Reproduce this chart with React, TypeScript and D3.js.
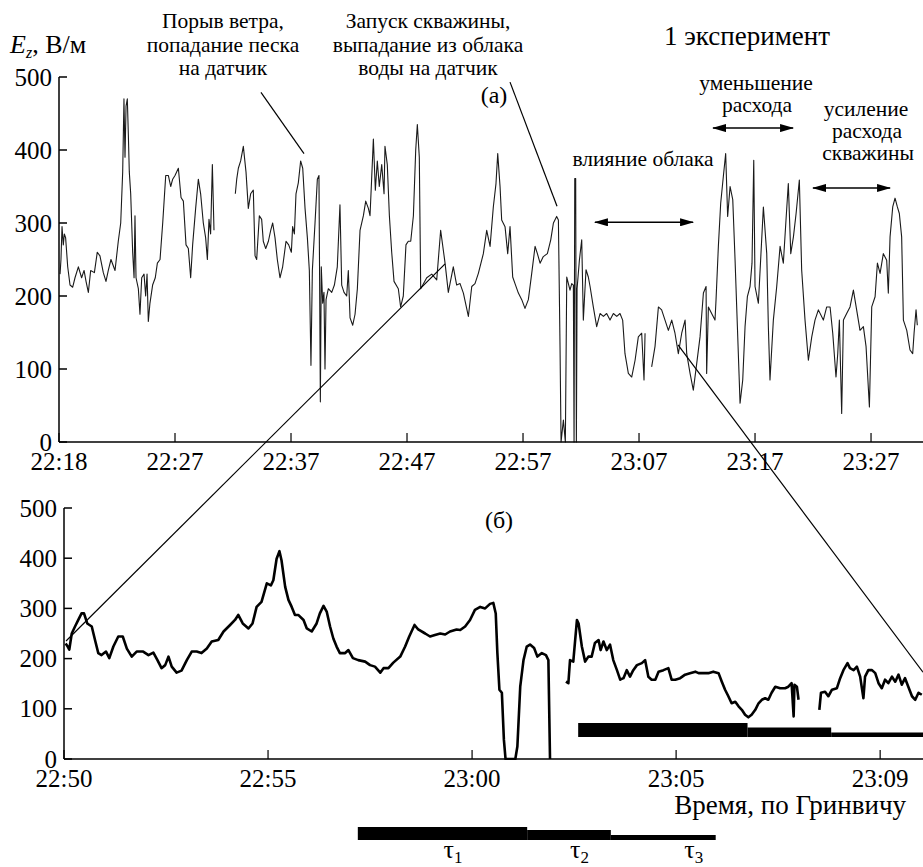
import React from "react";
import * as d3 from "d3";

// (а) full record, minutes from the first tick
const topMinutes = [
  0.09, 0.17, 0.26, 0.37, 0.46, 0.57, 0.75, 0.95, 1.18, 1.38, 1.67, 1.95, 2.16, 2.33, 2.53, 2.73,
  3.05, 3.3, 3.53, 3.82, 4.05, 4.25, 4.48, 4.83, 5.11, 5.32, 5.49, 5.6, 5.69, 5.78, 5.89, 5.98,
  6.06, 6.18, 6.35, 6.47, 6.55, 6.64, 6.84, 6.98, 7.13, 7.33, 7.47, 7.59, 7.7, 7.84, 8.07, 8.3,
  8.48, 8.71, 8.94, 9.2, 9.43, 9.63, 9.8, 10.0, 10.29, 10.52, 10.72, 10.95, 11.15, 11.35, 11.52,
  11.78, 12.01, 12.21, 12.44, 12.64, 12.79, 12.93, 13.07, 13.22, 13.36, 14.0, 15.2, 15.32, 15.46,
  15.66, 15.89, 16.12, 16.32, 16.52, 16.75, 16.9, 17.04, 17.27, 17.47, 17.61, 17.82, 18.05, 18.25,
  18.42, 18.62, 18.82, 19.05, 19.28, 19.57, 19.8, 20.03, 20.14, 20.29, 20.43, 20.63, 20.83, 21.01,
  21.21, 21.41, 21.58, 21.72, 21.84, 22.07, 22.27, 22.41, 22.53, 22.61, 22.73, 22.84, 22.93, 23.02,
  23.22, 23.51, 23.74, 23.99, 24.22, 24.37, 24.57, 24.8, 24.94, 25.09, 25.32, 25.52, 25.72, 25.95,
  26.24, 26.44, 26.67, 26.81, 26.95, 27.1, 27.27, 27.44, 27.61, 27.82, 28.02, 28.1, 28.3, 28.48,
  28.68, 28.88, 29.25, 29.45, 29.68, 29.91, 30.11, 30.32, 30.55, 30.75, 30.89, 31.06, 31.18, 31.7,
  32.13, 32.56, 32.9, 33.28, 33.56, 33.99, 34.28, 34.57, 34.86, 35.29, 35.58, 35.86, 36.15, 36.58,
  36.87, 37.16, 37.44, 37.67, 37.82, 38.02, 38.16, 38.45, 38.68, 38.88, 39.11, 39.31, 39.6, 39.89,
  40.17, 40.46, 40.75, 41.04, 41.24, 41.47, 41.75, 42.1, 42.39, 42.62, 42.9, 43.05, 43.19, 43.28,
  43.48, 43.65, 43.77, 44.05, 44.2, 44.34, 44.4, 44.46, 44.54, 44.6, 44.66, 44.86, 45.06, 45.2,
  45.43, 45.63, 45.78, 46.06, 46.35, 46.64, 46.93, 47.21, 47.5, 47.79, 48.08, 48.36, 48.59, 48.79,
  49.08, 49.37, 49.66, 49.94, 50.23, 50.43, 50.52, 50.8, 51.09, 51.38, 51.67, 51.95, 52.24, 52.53,
  52.82, 53.1, 53.39, 53.68, 53.97, 54.11, 54.4, 54.68, 54.97, 55.26, 55.55, 55.78, 55.83, 55.98,
  56.26, 56.55, 56.64, 56.84, 57.04, 57.27, 57.47, 57.64, 57.85, 58.08, 58.28, 58.48, 58.71, 58.94,
  59.14, 59.34, 59.57, 59.74, 59.89, 60.0, 60.29, 60.72, 61.01, 61.15, 61.29, 61.58, 61.87, 62.16,
  62.44, 62.67, 62.87, 63.08, 63.31, 63.54, 63.82, 64.02, 64.31, 64.6, 64.89, 65.17, 65.46, 65.89,
  66.18, 66.47, 66.7, 66.98, 67.13, 67.27, 67.47, 67.62, 67.9, 68.19, 68.48, 68.76, 69.05, 69.34,
  69.57, 69.86, 70.06, 70.35, 70.55, 70.78, 71.06, 71.35, 71.49, 71.64, 71.87, 72.07, 72.27, 72.44,
  72.64, 72.79, 73.08, 73.36, 73.59, 73.71, 73.88, 73.99
];
const topEz = [
  230, 250, 295, 270, 285, 280, 240, 215, 212, 225, 240, 225, 235, 220, 205, 235,
  232, 260, 255, 232, 220, 235, 250, 235, 275, 300, 370, 470, 390, 460, 470, 420,
  370, 340, 260, 225, 310, 225, 210, 175, 225, 230, 200, 230, 165, 190, 215, 225,
  245, 250, 300, 365, 365, 350, 360, 365, 375, 335, 330, 270, 265, 225, 270,
  320, 360, 340, 300, 280, 250, 305, 285, 380, 290, null, 340, 360, 375,
  385, 405, 370, 320, 340, 345, 255, 250, 310, 305, 275, 265, 275, 290,
  300, 280, 250, 225, 240, 275, 270, 260, 295, 285, 340, 355, 385, 375,
  320, 280, 235, 105, 235, 300, 360, 365, 55, 240, 190, 205, 100, 195,
  210, 205, 215, 240, 325, 215, 205, 200, 235, 170, 160, 175, 210, 290,
  310, 330, 320, 310, 360, 415, 345, 385, 350, 380, 340, 405, 380, 310,
  260, 220, 210, 185, 200, 270, 275, 275, 310, 400, 435, 390, 210, 225,
  230, 222, 290, 245, 205, 240, 215, 217, 204, 172, 213, 217, 231, 258,
  290, 268, 322, 354, 395, 350, 304, 295, 258, 295, 226, 217, 204, 195,
  183, 195, 231, 268, 258, 245, 254, 258, 277, 300, 309, 304, 131, 0,
  30, 0, 226, 208, 217, 215, 0, 361, 361, 0, 210, 249, 277, 167,
  236, 226, 213, 185, 158, 176, 172, 176, 167, 176, 172, 176, 167, 121,
  94, 89, 112, 144, 149, 85, 149, null, 103, 131, 185, 181, 167, 153,
  167, 149, 121, 149, 167, 121, 94, 71, 107, 144, 204, 213, 94, 185,
  176, 167, 195, 268, 327, 364, 395, 309, 350, 332, 249, 158, 53, 85,
  158, 199, 213, 245, 386, 213, 190, 322, 258, 158, 85, 167, 213, 268,
  245, 304, 354, 258, 281, 313, 359, 236, 167, 112, 144, 167, 181, 167,
  185, 185, 149, 89, 121, 167, 39, 167, 176, 185, 208, 181, 153, 158,
  131, 48, 185, 199, 245, 231, 258, 249, 204, 281, 322, 334, 322, 313,
  281, 167, 153, 126, 121, 149, 181, 160
];

// (б) fragment from 22:50, minutes
const bottomMinutes = [
  0.04, 0.09, 0.13, 0.19, 0.27, 0.35, 0.43, 0.49, 0.57, 0.68, 0.76, 0.84, 0.92, 1.03, 1.11, 1.21,
  1.33, 1.44, 1.54, 1.66, 1.78, 1.94, 2.07, 2.19, 2.29, 2.39, 2.48, 2.56, 2.64, 2.76, 2.88, 3.01,
  3.13, 3.25, 3.37, 3.5, 3.62, 3.78, 3.91, 4.07, 4.19, 4.27, 4.38, 4.52, 4.62, 4.72, 4.84, 4.97,
  5.07, 5.13, 5.21, 5.28, 5.33, 5.42, 5.5, 5.58, 5.66, 5.74, 5.87, 5.95, 6.07, 6.19, 6.27, 6.36,
  6.44, 6.52, 6.6, 6.68, 6.76, 6.89, 6.97, 7.08, 7.21, 7.38, 7.5, 7.62, 7.75, 7.83, 7.95, 8.07,
  8.24, 8.36, 8.46, 8.59, 8.68, 8.85, 8.97, 9.09, 9.22, 9.34, 9.46, 9.62, 9.71, 9.83, 9.95, 10.07,
  10.2, 10.32, 10.44, 10.52, 10.58, 10.62, 10.67, 10.73, 10.78, 10.82, 11.06, 11.11, 11.18, 11.26,
  11.34, 11.42, 11.52, 11.6, 11.71, 11.81, 11.87, 11.91, 12.1, 12.3, 12.36, 12.4, 12.48, 12.57,
  12.61, 12.69, 12.77, 12.85, 12.93, 13.01, 13.1, 13.15, 13.22, 13.3, 13.38, 13.46, 13.55, 13.63,
  13.71, 13.79, 13.87, 13.95, 14.04, 14.16, 14.24, 14.32, 14.4, 14.49, 14.57, 14.69, 14.81, 14.89,
  14.98, 15.1, 15.22, 15.34, 15.47, 15.55, 15.67, 15.79, 15.91, 16.04, 16.12, 16.2, 16.28, 16.36,
  16.45, 16.53, 16.61, 16.69, 16.77, 16.85, 16.94, 17.02, 17.1, 17.18, 17.26, 17.34, 17.43, 17.55,
  17.67, 17.75, 17.83, 17.88, 17.9, 17.96, 18.0, 18.25, 18.51, 18.55, 18.65, 18.73, 18.82, 18.94,
  19.02, 19.1, 19.2, 19.26, 19.35, 19.43, 19.51, 19.59, 19.63, 19.71, 19.8, 19.88, 19.96, 20.04,
  20.12, 20.2, 20.29, 20.37, 20.45, 20.53, 20.61, 20.69, 20.78, 20.86, 20.94, 21.02
];
const bottomEz = [
  230, 224, 218, 250, 264, 277, 290, 290, 270, 264, 237, 211, 207, 214, 201, 224,
  244, 244, 220, 204, 214, 214, 207, 212, 197, 181, 187, 204, 184, 172, 176, 197,
  214, 214, 211, 220, 234, 237, 254, 267, 277, 287, 270, 260, 270, 303, 313, 350,
  346, 356, 399, 414, 396, 343, 317, 303, 287, 287, 277, 260, 254, 270, 290, 305,
  293, 264, 240, 224, 211, 211, 217, 201, 197, 194, 187, 184, 172, 181, 181, 192,
  204, 224, 244, 267, 258, 250, 244, 247, 250, 248, 254, 258, 257, 264, 277, 297,
  303, 300, 309, 311, 290, 211, 138, 132, 38, 0, 0, 25, 144, 197,
  224, 228, 221, 204, 211, 207, 197, 0, null, 154, 151, 197, 194, 277,
  270, 224, 194, 204, 204, 231, 237, 217, 234, 217, 228, 197, 177, 158,
  161, 177, 164, 177, 187, 191, 197, 164, 158, 158, 174, 177, 181, 158,
  158, 161, 168, 171, 174, 171, 171, 171, 174, 171, 154, 138, 125, 111,
  114, 105, 98, 88, 83, 88, 98, 111, 118, 121, 118, 132, 144, 141,
  141, 144, 151, 85, 148, 144, 118, null, 98, 132, 134, 125, 138, 141,
  161, 177, 191, 181, 177, 184, 164, 121, 164, 177, 177, 171, 151, 141,
  158, 151, 164, 154, 168, 148, 161, 144, 125, 118, 132, 128
];

const topTicks = [0, 10, 20, 30, 40, 50, 60, 70];
const topTickLabels = ["22:18", "22:27", "22:37", "22:47", "22:57", "23:07", "23:17", "23:27"];
const bottomTicks = [0, 5, 10, 15, 20];
const bottomTickLabels = ["22:50", "22:55", "23:00", "23:05", "23:09"];
const ezTicks = [0, 100, 200, 300, 400, 500];

// pumping stages τ1..τ3 (duration, minutes)
const tauNames = ["1", "2", "3"];
const tauMinutes = [4.15, 2.05, 2.57];
const tauStartOnPlot = 12.6;
const tauStartLegend = 7.2;
const tauLabelAt = [9.3, 12.4, 15.2];

// zoom connectors: [top minute, top Ez, bottom minute, bottom Ez]
const zoomLinks = [
  [33.28, 244, 0.05, 235],
  [53.36, 133, 21.05, 173]
];

const FONT = "Liberation Serif, Tinos, Times New Roman, DejaVu Serif, serif";

const W = 923;
const H = 867;

const topX = d3.scaleLinear().domain([0, 74.48]).range([59, 923]);
const topY = d3.scaleLinear().domain([0, 500]).range([442, 77]);
const botX = d3.scaleLinear().domain([0, 21.05]).range([64, 923]);
const botY = d3.scaleLinear().domain([0, 500]).range([759, 508]);

type Pt = [number, number | null];

function makePath(xs: number[], ys: (number | null)[], sx: any, sy: any) {
  const pts: Pt[] = xs.map((x, i) => [x, ys[i]]);
  const line = d3
    .line<Pt>()
    .defined(d => d[1] != null)
    .x(d => sx(d[0]))
    .y(d => sy(d[1] as number));
  return line(pts) || "";
}

function YAxis({ sx, sy, x0 }: any) {
  const x = sx(x0);
  return (
    <g>
      <line x1={x} x2={x} y1={sy(500)} y2={sy(0)} stroke="#000" strokeWidth={1.5} />
      {ezTicks.map(t => (
        <g key={t}>
          <line x1={x} x2={x + 8} y1={sy(t)} y2={sy(t)} stroke="#000" strokeWidth={1.5} />
          <text x={x - 7} y={sy(t)} dy="0.34em" textAnchor="end" fontSize={25}>
            {t}
          </text>
        </g>
      ))}
    </g>
  );
}

function XAxis({ sx, sy, ticks, labels }: any) {
  const y = sy(0);
  return (
    <g>
      <line x1={sx.range()[0]} x2={sx.range()[1]} y1={y} y2={y} stroke="#000" strokeWidth={1.5} />
      {ticks.map((t: number, i: number) => (
        <g key={t}>
          <line x1={sx(t)} x2={sx(t)} y1={y} y2={y - 9} stroke="#000" strokeWidth={1.2} />
          <text x={sx(t)} y={y + 28} textAnchor="middle" fontSize={25}>
            {labels[i]}
          </text>
        </g>
      ))}
    </g>
  );
}

function Arrow({ x1, x2, y }: any) {
  return (
    <line
      x1={x1}
      x2={x2}
      y1={y}
      y2={y}
      stroke="#000"
      strokeWidth={1.5}
      markerStart="url(#head)"
      markerEnd="url(#head)"
    />
  );
}

export default function App() {
  const topPath = makePath(topMinutes, topEz, topX, topY);
  const botPath = makePath(bottomMinutes, bottomEz, botX, botY);

  // τ bars
  const thick = [14, 9.5, 4.5];
  let acc = 0;
  const tauBars = tauMinutes.map((d, i) => {
    const b = { s: acc, e: acc + d, h: thick[i] };
    acc += d;
    return b;
  });

  const annoSize = 21.5;

  return (
    <svg
      width={W}
      height={H}
      style={{ position: "absolute", left: 0, top: 0, background: "#fff", fontFamily: FONT }}
    >
      <defs>
        <marker
          id="head"
          markerUnits="userSpaceOnUse"
          markerWidth={14}
          markerHeight={8}
          refX={13}
          refY={4}
          orient="auto-start-reverse"
        >
          <path d="M0,0 L14,4 L0,8 Z" fill="#000" />
        </marker>
        <clipPath id="clipTop">
          <rect x={59} y={0} width={W - 59} height={443} />
        </clipPath>
        <clipPath id="clipBot">
          <rect x={64} y={480} width={W - 64} height={280} />
        </clipPath>
      </defs>

      {/* panel (а) */}
      <path
        d={topPath}
        fill="none"
        stroke="#1a1a1a"
        strokeWidth={1.1}
        strokeLinejoin="round"
        clipPath="url(#clipTop)"
      />
      <YAxis sx={topX} sy={topY} x0={0} />
      <XAxis sx={topX} sy={topY} ticks={topTicks} labels={topTickLabels} />

      {/* panel (б) */}
      <path
        d={botPath}
        fill="none"
        stroke="#000"
        strokeWidth={2.6}
        strokeLinejoin="round"
        clipPath="url(#clipBot)"
      />
      <YAxis sx={botX} sy={botY} x0={0} />
      <XAxis sx={botX} sy={botY} ticks={bottomTicks} labels={bottomTickLabels} />

      {/* τ bars inside (б) */}
      <g clipPath="url(#clipBot)">
        {tauBars.map((b, i) => (
          <rect
            key={i}
            x={botX(tauStartOnPlot + b.s)}
            width={botX(tauStartOnPlot + b.e) - botX(tauStartOnPlot + b.s)}
            y={737 - b.h}
            height={b.h}
            fill="#000"
          />
        ))}
      </g>

      {/* τ legend under the axis */}
      {tauBars.map((b, i) => (
        <rect
          key={i}
          x={botX(tauStartLegend + b.s)}
          width={botX(tauStartLegend + b.e) - botX(tauStartLegend + b.s)}
          y={840 - [13, 10, 5][i]}
          height={[13, 10, 5][i]}
          fill="#000"
        />
      ))}
      {tauNames.map((n, i) => (
        <text key={n} x={botX(tauLabelAt[i])} y={858} fontSize={26}>
          τ
          <tspan fontSize={17} dy={5}>
            {n}
          </tspan>
        </text>
      ))}

      {/* zoom connectors */}
      {zoomLinks.map((l, i) => (
        <line
          key={i}
          x1={topX(l[0])}
          y1={topY(l[1])}
          x2={botX(l[2])}
          y2={botY(l[3])}
          stroke="#000"
          strokeWidth={1.2}
        />
      ))}

      {/* annotation leaders */}
      <line x1={topX(17.41)} y1={topY(479)} x2={topX(21.12)} y2={topY(395)} stroke="#000" strokeWidth={1.2} />
      <line x1={topX(38.88)} y1={topY(493)} x2={topX(42.93)} y2={topY(323)} stroke="#000" strokeWidth={1.2} />

      {/* arrows */}
      <Arrow x1={topX(46.2)} x2={topX(54.66)} y={topY(301)} />
      <Arrow x1={topX(56.38)} x2={topX(63.28)} y={topY(430)} />
      <Arrow x1={topX(65.0)} x2={topX(71.64)} y={topY(348)} />

      {/* texts */}
      <text x={10} y={53} fontSize={26}>
        <tspan fontStyle="italic">E</tspan>
        <tspan fontStyle="italic" fontSize={16} dy={5}>
          z
        </tspan>
        <tspan dy={-5}>, В/м</tspan>
      </text>

      <g fontSize={annoSize} textAnchor="middle">
        <text x={223} y={28}>Порыв ветра,</text>
        <text x={223} y={52}>попадание песка</text>
        <text x={223} y={75}>на датчик</text>
        <text x={428} y={28}>Запуск скважины,</text>
        <text x={428} y={52}>выпадание из облака</text>
        <text x={428} y={75}>воды на датчик</text>
        <text x={756} y={90}>уменьшение</text>
        <text x={757} y={112}>расхода</text>
        <text x={866} y={116}>усиление</text>
        <text x={867} y={138}>расхода</text>
        <text x={868} y={160}>скважины</text>
        <text x={643} y={166}>влияние облака</text>
      </g>
      <text x={747} y={45} fontSize={27} textAnchor="middle">
        1 эксперимент
      </text>
      <text x={494} y={103} fontSize={24} textAnchor="middle">
        (а)
      </text>
      <text x={499} y={528} fontSize={24} textAnchor="middle">
        (б)
      </text>
      <text x={906} y={814} fontSize={27} textAnchor="end">
        Время, по Гринвичу
      </text>
    </svg>
  );
}
